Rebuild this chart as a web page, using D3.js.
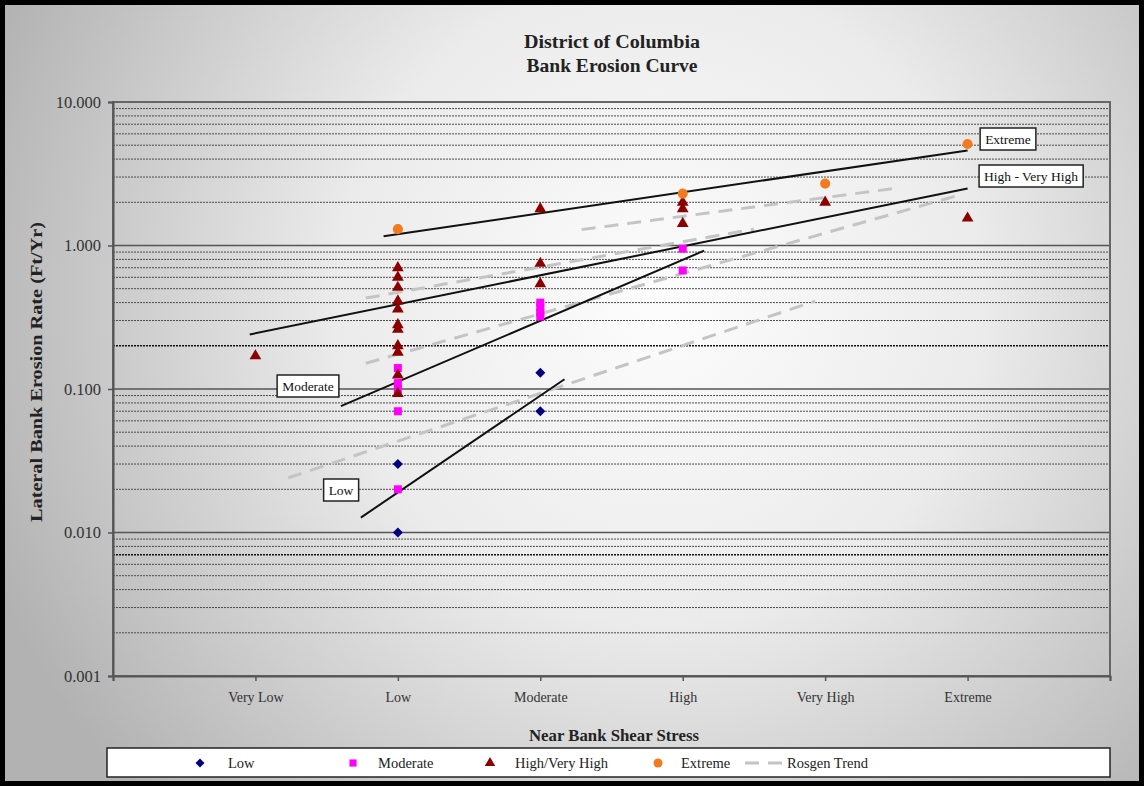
<!DOCTYPE html>
<html>
<head>
<meta charset="utf-8">
<script src="https://cdn.jsdelivr.net/npm/d3@7"></script>
<style>
  body { margin: 0; background: #fff; }
  text { font-family: 'Liberation Serif', 'Times New Roman', serif; }
</style>
</head>
<body>
<svg id="chart"></svg>
<script>
// DATA
const categories = ['Very Low', 'Low', 'Moderate', 'High', 'Very High', 'Extreme'];
const yTickLabels = ['0.001', '0.010', '0.100', '1.000', '10.000'];

// [category, lateral bank erosion rate ft/yr]
const lowPoints = [['Low', 0.03], ['Low', 0.01], ['Moderate', 0.13], ['Moderate', 0.07]];
const moderatePoints = [
  ['Low', 0.14], ['Low', 0.11], ['Low', 0.1], ['Low', 0.07], ['Low', 0.02],
  ['Moderate', 0.4], ['Moderate', 0.37], ['Moderate', 0.34], ['Moderate', 0.32],
  ['High', 0.95], ['High', 0.67]
];
const highPoints = [
  ['Very Low', 0.17],
  ['Low', 0.7], ['Low', 0.6], ['Low', 0.51], ['Low', 0.41], ['Low', 0.36], ['Low', 0.28],
  ['Low', 0.26], ['Low', 0.2], ['Low', 0.18], ['Low', 0.125], ['Low', 0.093],
  ['Moderate', 1.8], ['Moderate', 0.75], ['Moderate', 0.54],
  ['High', 2.0], ['High', 1.8], ['High', 1.42],
  ['Very High', 2.0], ['Extreme', 1.55]
];
const extremePoints = [['Low', 1.3], ['High', 2.3], ['Very High', 2.7], ['Extreme', 5.1]];

// trend lines: [position on category axis (1 = Very Low), rate]
const curveLines = [
  { name: 'Extreme', pts: [[1.9, 1.16], [6, 4.6]] },
  { name: 'High - Very High', pts: [[0.96, 0.24], [6, 2.5]] },
  { name: 'Moderate', pts: [[1.6, 0.076], [4.15, 0.92]] },
  { name: 'Low', pts: [[1.74, 0.0127], [3.17, 0.117]] }
];
const rosgenLines = [
  [[3.29, 1.29], [5.49, 2.5]],
  [[1.775, 0.43], [4.5, 1.3]],
  [[1.775, 0.151], [5.93, 2.23]],
  [[1.23, 0.024], [4.93, 0.41]]
];

// SETUP
const width = 1144, height = 786;
const plot = { left: 113, right: 1110, top: 102, bottom: 676 };

const svg = d3.select('#chart').attr('width', width).attr('height', height);

const defs = svg.append('defs');
const bg = defs.append('radialGradient')
  .attr('id', 'bg')
  .attr('gradientUnits', 'userSpaceOnUse')
  .attr('cx', 660).attr('cy', 300).attr('r', 720);
bg.append('stop').attr('offset', '0%').attr('stop-color', '#fdfdfd');
bg.append('stop').attr('offset', '45%').attr('stop-color', '#ebebeb');
bg.append('stop').attr('offset', '100%').attr('stop-color', '#b2b2b2');

svg.append('rect')
  .attr('x', 0).attr('y', 0).attr('width', width).attr('height', height)
  .attr('fill', 'url(#bg)');

// SCALES
const x = d3.scaleLinear().domain([0, 7]).range([plot.left, plot.right]);
const y = d3.scaleLog().domain([0.001, 10]).range([plot.bottom, plot.top]);
const catX = (c) => x(categories.indexOf(c) + 1);

// GRIDLINES
const minor = [];
[0.001, 0.01, 0.1, 1].forEach((d) => {
  for (let k = 2; k <= 9; k++) minor.push(d * k);
});
const isDark = (d) => Math.abs(d - 0.2) < 1e-9 || Math.abs(d - 0.007) < 1e-9;
const grid = svg.append('g');
grid.selectAll('.minor')
  .data(minor)
  .enter()
  .append('line')
  .attr('x1', plot.left).attr('x2', plot.right)
  .attr('y1', (d) => y(d)).attr('y2', (d) => y(d))
  .attr('stroke', (d) => isDark(d) ? '#111' : '#4a4a4a')
  .attr('stroke-width', (d) => isDark(d) ? 1.5 : 1)
  .attr('stroke-dasharray', '2,1');
grid.selectAll('.major')
  .data([0.01, 0.1, 1])
  .enter()
  .append('line')
  .attr('x1', plot.left).attr('x2', plot.right)
  .attr('y1', (d) => y(d)).attr('y2', (d) => y(d))
  .attr('stroke', '#555')
  .attr('stroke-width', 1.4);

svg.append('rect')
  .attr('x', plot.left).attr('y', plot.top)
  .attr('width', plot.right - plot.left).attr('height', plot.bottom - plot.top)
  .attr('fill', 'none')
  .attr('stroke', '#666')
  .attr('stroke-width', 2);

// AXES
const yAxis = d3.axisLeft(y)
  .tickValues([0.001, 0.01, 0.1, 1, 10])
  .tickFormat((d, i) => yTickLabels[i])
  .tickSize(5)
  .tickPadding(7);
const gy = svg.append('g').attr('transform', `translate(${plot.left},0)`).call(yAxis);
gy.select('.domain').attr('stroke', '#555').attr('stroke-width', 2);
gy.selectAll('.tick line').attr('stroke', '#555').attr('stroke-width', 1.5);
gy.selectAll('text')
  .attr('font-family', "'Liberation Serif', serif")
  .attr('font-size', 16.5)
  .attr('fill', '#333');

const xAxis = d3.axisBottom(x)
  .tickValues(d3.range(0, 8))
  .tickFormat((d) => categories[d - 1] || '')
  .tickSize(5)
  .tickPadding(11);
const gx = svg.append('g').attr('transform', `translate(0,${plot.bottom})`).call(xAxis);
gx.select('.domain').attr('stroke', '#555').attr('stroke-width', 2);
gx.selectAll('.tick line').attr('stroke', '#555').attr('stroke-width', 1.5);
gx.selectAll('text')
  .attr('font-family', "'Liberation Serif', serif")
  .attr('font-size', 14)
  .attr('fill', '#333');

// TREND LINES
const line = d3.line().x((d) => x(d[0])).y((d) => y(d[1]));

svg.append('g').selectAll('path')
  .data(rosgenLines)
  .enter()
  .append('path')
  .attr('d', line)
  .attr('fill', 'none')
  .attr('stroke', '#c4c4c4')
  .attr('stroke-width', 3)
  .attr('stroke-dasharray', '14,9');

svg.append('g').selectAll('path')
  .data(curveLines)
  .enter()
  .append('path')
  .attr('d', (d) => line(d.pts))
  .attr('fill', 'none')
  .attr('stroke', '#111')
  .attr('stroke-width', 2);

// POINTS
const symbolSets = [
  { data: lowPoints, type: d3.symbolSquare, size: 50, rot: 45, color: '#000080' },
  { data: moderatePoints, type: d3.symbolSquare, size: 64, rot: 0, color: '#ff00ff' },
  { data: highPoints, type: d3.symbolTriangle, size: 60, rot: 0, color: '#8b0000' },
  { data: extremePoints, type: d3.symbolCircle, size: 80, rot: 0, color: '#f47a20' }
];
symbolSets.forEach((s) => {
  svg.append('g').selectAll('path')
    .data(s.data)
    .enter()
    .append('path')
    .attr('transform', (d) => `translate(${catX(d[0])},${y(d[1])}) rotate(${s.rot})`)
    .attr('d', d3.symbol().type(s.type).size(s.size))
    .attr('fill', s.color);
});

// CURVE LABELS
const curveLabels = [
  { text: 'Extreme', cx: 1008, cy: 139 },
  { text: 'High - Very High', cx: 1031, cy: 176 },
  { text: 'Moderate', cx: 308, cy: 386 },
  { text: 'Low', cx: 341, cy: 490 }
];
curveLabels.forEach((l) => {
  const g = svg.append('g');
  const t = g.append('text')
    .attr('x', l.cx).attr('y', l.cy + 4.5)
    .attr('text-anchor', 'middle')
    .attr('font-size', 13.5)
    .attr('fill', '#111')
    .text(l.text);
  const bb = t.node().getBBox();
  g.insert('rect', 'text')
    .attr('x', bb.x - 5).attr('y', l.cy - 11)
    .attr('width', bb.width + 10).attr('height', 22)
    .attr('fill', '#fff')
    .attr('stroke', '#222')
    .attr('stroke-width', 1.5);
});

// TITLES
svg.append('text')
  .attr('x', 612).attr('y', 48)
  .attr('text-anchor', 'middle')
  .attr('font-size', 19).attr('font-weight', 'bold').attr('fill', '#222')
  .attr('textLength', 176).attr('lengthAdjust', 'spacingAndGlyphs')
  .text('District of Columbia');
svg.append('text')
  .attr('x', 612).attr('y', 72)
  .attr('text-anchor', 'middle')
  .attr('font-size', 19).attr('font-weight', 'bold').attr('fill', '#222')
  .attr('textLength', 171).attr('lengthAdjust', 'spacingAndGlyphs')
  .text('Bank Erosion Curve');

svg.append('text')
  .attr('transform', `translate(42,372) rotate(-90)`)
  .attr('text-anchor', 'middle')
  .attr('font-size', 16).attr('font-weight', 'bold').attr('fill', '#222')
  .attr('textLength', 300).attr('lengthAdjust', 'spacingAndGlyphs')
  .text('Lateral Bank Erosion Rate (Ft/Yr)');

svg.append('text')
  .attr('x', 614).attr('y', 741)
  .attr('text-anchor', 'middle')
  .attr('font-size', 17).attr('font-weight', 'bold').attr('fill', '#222')
  .attr('textLength', 170).attr('lengthAdjust', 'spacingAndGlyphs')
  .text('Near Bank Shear Stress');

// LEGEND
const legend = svg.append('g');
legend.append('rect')
  .attr('x', 107).attr('y', 748).attr('width', 1003).attr('height', 29)
  .attr('fill', '#fff').attr('stroke', '#222').attr('stroke-width', 1.5);

const legendItems = [
  { label: 'Low', sx: 200, tx: 228, set: symbolSets[0] },
  { label: 'Moderate', sx: 353, tx: 378, set: symbolSets[1] },
  { label: 'High/Very High', sx: 490, tx: 515, set: symbolSets[2] },
  { label: 'Extreme', sx: 658, tx: 681, set: symbolSets[3] },
  { label: 'Rosgen Trend', sx: null, tx: 787, set: null }
];
legendItems.forEach((it) => {
  if (it.set) {
    legend.append('path')
      .attr('transform', `translate(${it.sx},763) rotate(${it.set.rot})`)
      .attr('d', d3.symbol().type(it.set.type).size(it.set.size * 0.8))
      .attr('fill', it.set.color);
  } else {
    legend.append('line')
      .attr('x1', 745).attr('x2', 786).attr('y1', 763).attr('y2', 763)
      .attr('stroke', '#c4c4c4').attr('stroke-width', 3)
      .attr('stroke-dasharray', '14,9');
  }
  legend.append('text')
    .attr('x', it.tx).attr('y', 768)
    .attr('font-size', 14.5).attr('fill', '#222')
    .text(it.label);
});

// FRAME
svg.append('rect')
  .attr('x', 2.5).attr('y', 2.5).attr('width', width - 5).attr('height', height - 5)
  .attr('fill', 'none').attr('stroke', '#000').attr('stroke-width', 5);
</script>
</body>
</html>
